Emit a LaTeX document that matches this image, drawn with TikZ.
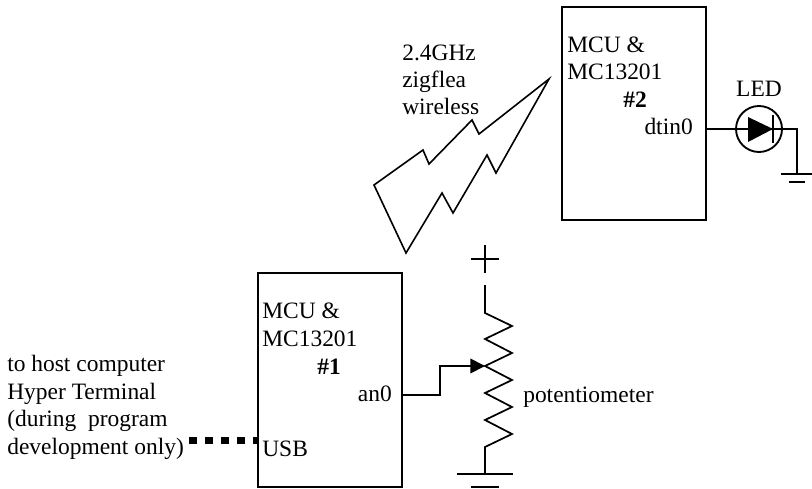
\documentclass[tikz,border=0pt]{standalone}
\usepackage{fontspec}
\setmainfont{Liberation Serif}
\usetikzlibrary{arrows.meta,positioning,calc}
\tikzset{
  mcu/.style={rectangle, draw, line width=1.4pt, inner sep=0pt, minimum width=108pt, minimum height=160pt},
  label/.style={font=\fontsize{17.6}{20.6}\selectfont, inner sep=0pt, align=left},
  numlabel/.style={label, font=\fontsize{17.6}{20.6}\selectfont\bfseries},
  wire/.style={line width=1.3pt},
  bolt/.style={line width=1.2pt, line join=miter},
  usbline/.style={line width=5.6pt, dash pattern=on 6pt off 6pt},
  ring/.style={circle, draw, line width=1.4pt, inner sep=0pt, minimum size=34.5pt},
}
\begin{document}
\begin{tikzpicture}[x=0.75pt, y=-0.75pt]
  \useasboundingbox (0,0) rectangle (812,488);
  % boxes
  \node[mcu] (mcuB) at (634,113.5) {};
  \node[mcu] (mcuA) at (330,380) {};
  % labels
  \node[label, anchor=base west] (txtB) at (567,80) {MCU \&\\MC13201};
  \node[numlabel, anchor=base] (numB) at (635,108) {\#2};
  \node[label, anchor=base east] (dtin) at (693,135) {dtin0};
  \node[label, anchor=base west] (txtA) at (262,346) {MCU \&\\MC13201};
  \node[numlabel, anchor=base] (numA) at (329,374) {\#1};
  \node[label, anchor=base east] (an) at (392,401) {an0};
  \node[label, anchor=base west] (usb) at (262,456) {USB};
  \node[label, anchor=base west] (host) at (7,454) {to host computer\\Hyper Terminal\\(during\ \ program\\development only)};
  \node[label, anchor=base west] (radio) at (402,115) {2.4GHz\\zigflea\\wireless};
  \node[label, anchor=base] (ledtxt) at (759,97) {LED};
  \node[label, anchor=base west] (pottxt) at (523,402) {potentiometer};
  % lightning
  \draw[bolt] (549,79) -- (479,134) -- (472,120) -- (429,164) -- (423,150) -- (374,185)
    -- (406,253) -- (442,193) -- (453,213) -- (487,155) -- (496,173) -- cycle;
  % led
  \node[ring] (led) at (759,129) {};
  \coordinate (gndB) at (797,174);
  \draw[wire] (mcuB.east |- led) -- (led.center) -- (gndB |- led) -- (gndB);
  \fill (748,117) -- (773,129) -- (748,142) -- cycle;
  \draw[wire] (773,115) -- (773,143);
  \draw[wire] (781,174) -- (812,174);
  \draw[wire] (789,182) -- (805,182);
  % pot
  \coordinate (potT) at (485,285);
  \coordinate (potM) at (485,366);
  \coordinate (potG) at (485,474);
  \draw[wire] (471,259) -- (499,259);
  \draw[wire] (485,245) -- (485,273);
  \draw[wire] (potT) -- (485,313) -- (512,326) -- (485,339) -- (512,353) -- (potM) -- (512,380)
    -- (485,393) -- (512,407) -- (485,420) -- (512,434) -- (485,447) -- (potG);
  \draw[wire] (457,474) -- (513,474);
  \draw[wire] (471,487) -- (499,487);
  \draw[wire, -{Triangle[length=11pt,width=11pt]}] (mcuA.east |- 0,395) -- (440,395) -- (440,366) -- (potM);
  % usb
  \coordinate (hostend) at (189,440.5);
  \draw[usbline] (hostend) -- (hostend -| mcuA.west);
\end{tikzpicture}
\end{document}
